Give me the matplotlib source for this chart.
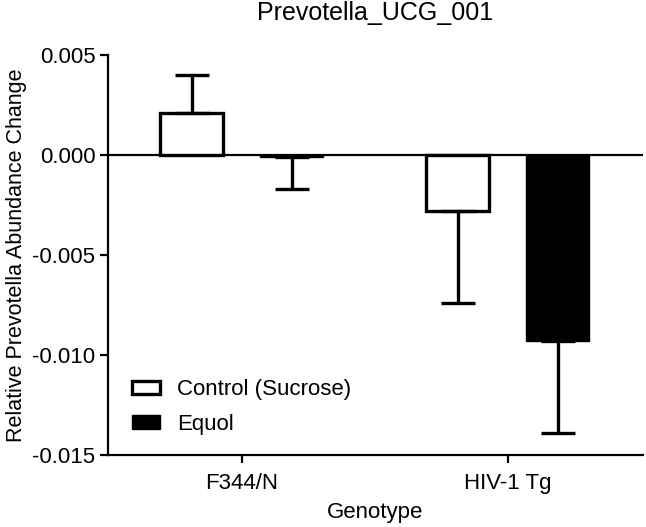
import matplotlib
matplotlib.use("Agg")
import matplotlib.pyplot as plt
import numpy as np

plt.rcParams['font.family'] = ['Liberation Sans', 'DejaVu Sans']

genotypes = ["F344/N", "HIV-1 Tg"]
groups = ["Control (Sucrose)", "Equol"]
control_mean = [0.0021, -0.0028]
control_sem = [0.0019, 0.0046]
equol_mean = [-0.0001, -0.0093]
equol_sem = [0.0016, 0.0046]


def one_sided(means, sems):
    # Prism style: error bar only points away from zero
    lower = [s if m < 0 else 0 for m, s in zip(means, sems)]
    upper = [s if m >= 0 else 0 for m, s in zip(means, sems)]
    return [lower, upper]


fig = plt.figure(figsize=(6.46, 5.27), dpi=100)
ax = fig.add_axes([0.167, 0.137, 0.828, 0.759])

x = np.arange(len(genotypes))
w = 0.237
off = 0.188

ax.axhline(0, color="black", lw=1.6, zorder=1)

ax.bar(x - off, control_mean, w, color="white", edgecolor="black", lw=2.4,
       yerr=one_sided(control_mean, control_sem),
       error_kw=dict(ecolor="black", elinewidth=2.4, capsize=12, capthick=2.4),
       label=groups[0], zorder=3)
ax.bar(x + off, equol_mean, w, color="black", edgecolor="black", lw=1,
       yerr=one_sided(equol_mean, equol_sem),
       error_kw=dict(ecolor="black", elinewidth=2.4, capsize=12, capthick=2.4),
       label=groups[1], zorder=3)

ax.set_xlim(-0.504, 1.508)
ax.set_ylim(-0.015, 0.005)
yt = [-0.015, -0.010, -0.005, 0.000, 0.005]
ax.set_yticks(yt)
ax.set_yticklabels(["%.3f" % v for v in yt])
ax.set_xticks(x)
ax.set_xticklabels(genotypes)

for s in ["top", "right"]:
    ax.spines[s].set_visible(False)
for s in ["left", "bottom"]:
    ax.spines[s].set_linewidth(1.6)

ax.tick_params(axis="both", width=1.6, length=6, labelsize=16)
ax.tick_params(axis="y", pad=3)
ax.tick_params(axis="x", pad=7)

ax.set_title("Prevotella_UCG_001", fontsize=18, pad=25)
ax.set_ylabel("Relative Prevotella Abundance Change", fontsize=15.5, labelpad=4)
ax.set_xlabel("Genotype", fontsize=16, labelpad=6)

leg = ax.legend(loc="lower left", bbox_to_anchor=(0.045, 0.05), frameon=False,
                fontsize=16, handlelength=1.26, handleheight=0.54,
                handletextpad=0.77, labelspacing=0.6,
                borderpad=0, borderaxespad=0)

fig.savefig("out.png", dpi=100)
